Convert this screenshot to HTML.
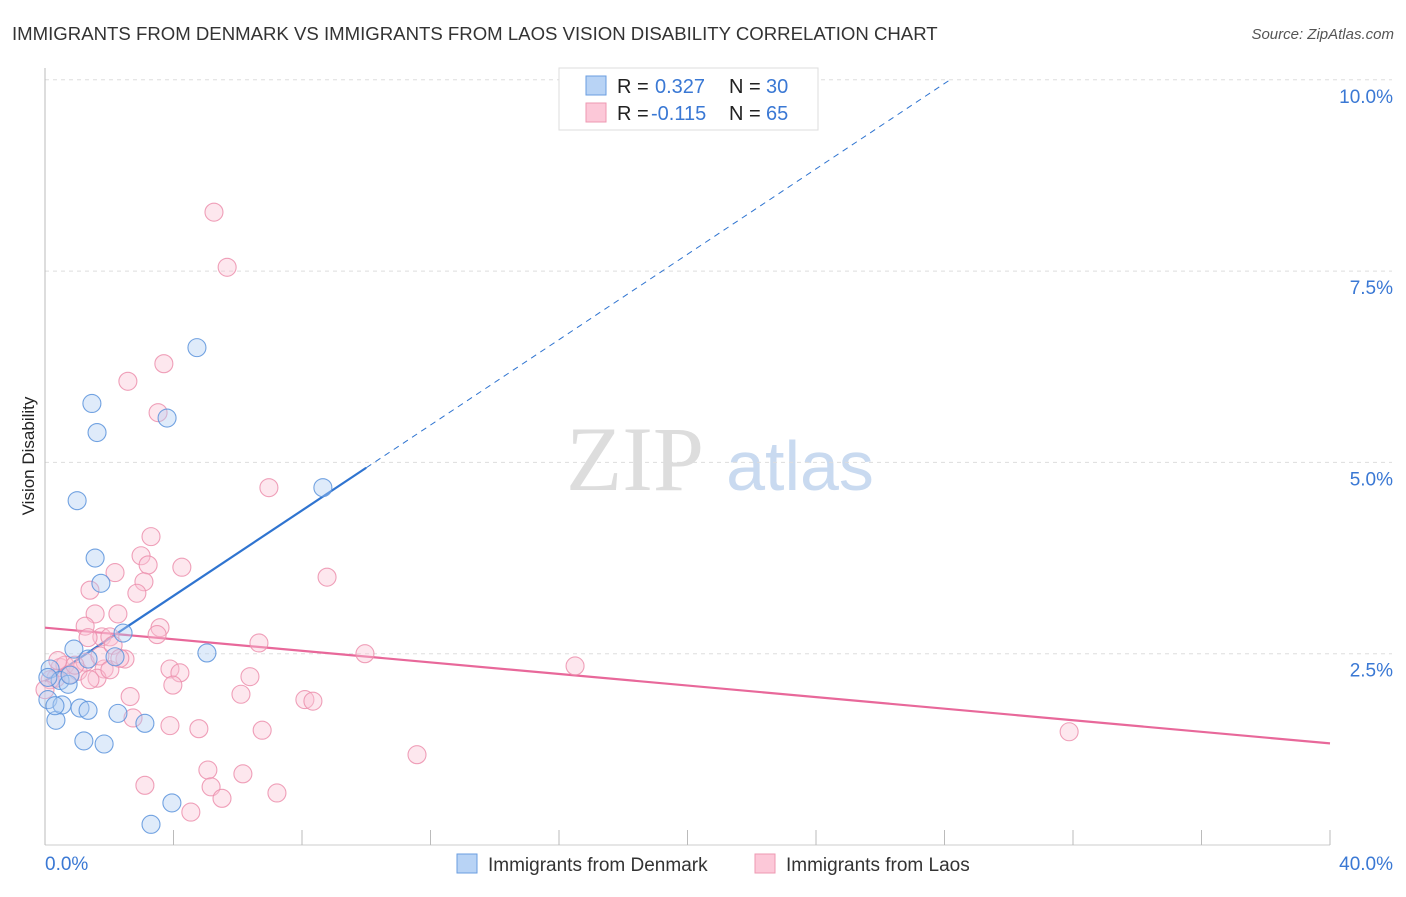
<!DOCTYPE html>
<html><head><meta charset="utf-8"><style>
body{margin:0;background:#fff;font-family:"Liberation Sans",sans-serif;}
</style></head><body>
<svg width="1406" height="892" xmlns="http://www.w3.org/2000/svg" style="font-family:'Liberation Sans',sans-serif">
<text x="12" y="40" font-size="18.6" fill="#333">IMMIGRANTS FROM DENMARK VS IMMIGRANTS FROM LAOS VISION DISABILITY CORRELATION CHART</text>
<text x="1394" y="39" font-size="15" fill="#555" font-style="italic" text-anchor="end">Source: ZipAtlas.com</text>
<text x="34" y="456" font-size="17" fill="#222" text-anchor="middle" transform="rotate(-90 34 456)">Vision Disability</text>
<g><text x="635" y="490" font-size="92" fill="#ddd" text-anchor="middle" font-family="Liberation Serif,serif">ZIP</text><text x="800" y="490" font-size="70" fill="#c9daf0" text-anchor="middle">atlas</text></g>
<g id="grid"></g><g id="axes"></g><g id="trends"></g><g id="pts"></g>
<g>
<rect x="559" y="68" width="259" height="62" fill="#fff" stroke="#ddd"/>
<rect x="586" y="76" width="20" height="19" fill="#b8d3f5" stroke="#6a9ee0"/>
<rect x="586" y="103" width="20" height="19" fill="#fcc8d8" stroke="#ee98b2"/>
<g font-size="20">
<text x="617" y="93" fill="#222">R =</text><text x="655" y="93" fill="#3a78d4">0.327</text><text x="729" y="93" fill="#222">N =</text><text x="766" y="93" fill="#3a78d4">30</text>
<text x="617" y="120" fill="#222">R =</text><text x="651" y="120" fill="#3a78d4">-0.115</text><text x="729" y="120" fill="#222">N =</text><text x="766" y="120" fill="#3a78d4">65</text>
</g>
</g>
<g>
<rect x="457" y="854" width="20" height="19" fill="#b8d3f5" stroke="#6a9ee0"/>
<text x="488" y="871" font-size="19" fill="#333">Immigrants from Denmark</text>
<rect x="755" y="854" width="20" height="19" fill="#fcc8d8" stroke="#ee98b2"/>
<text x="786" y="871" font-size="19" fill="#333">Immigrants from Laos</text>
</g>
</svg>
<script>
const yTicks=[2.5,5,7.5,10];
const yTickLabels=["2.5%","5.0%","7.5%","10.0%"];
const xTickCount=[0,4,8,12,16,20,24,28,32,36,40];
const xEndLabels=["0.0%","40.0%"];
const denX=[4.73,1.46,1.62,3.80,1.00,8.65,1.56,1.74,2.43,0.90,1.34,2.18,5.04,0.16,0.47,0.72,0.78,0.09,0.34,0.53,1.09,1.34,2.27,3.11,1.21,1.84,3.95,3.30,0.31,0.09];
const denY=[6.50,5.77,5.39,5.58,4.50,4.67,3.75,3.42,2.77,2.56,2.43,2.46,2.51,2.30,2.15,2.10,2.22,1.90,1.63,1.83,1.79,1.76,1.72,1.59,1.36,1.32,0.55,0.27,1.82,2.19];
const laoX=[5.26,5.67,3.70,2.58,3.52,6.97,3.30,2.99,4.26,3.21,2.18,3.08,8.78,1.40,2.86,1.56,2.27,1.25,3.58,3.49,6.66,1.77,1.34,2.02,9.96,16.50,2.49,1.84,3.89,6.38,4.20,3.98,1.03,0.47,0.62,1.62,0.34,0.78,2.65,6.10,8.09,8.34,2.74,3.89,4.79,6.76,11.58,31.88,3.11,5.07,6.16,5.17,5.51,7.22,4.54,0.16,0.0,1.25,1.71,2.12,0.93,0.40,1.40,2.02,2.33];
const laoY=[8.27,7.55,6.29,6.06,5.65,4.67,4.03,3.78,3.63,3.66,3.56,3.44,3.50,3.33,3.29,3.02,3.02,2.86,2.84,2.75,2.64,2.72,2.71,2.72,2.50,2.34,2.43,2.30,2.30,2.20,2.25,2.09,2.27,2.32,2.35,2.18,2.18,2.23,1.94,1.97,1.90,1.88,1.66,1.56,1.52,1.50,1.18,1.48,0.78,0.98,0.93,0.76,0.61,0.68,0.43,2.16,2.03,2.39,2.47,2.61,2.35,2.41,2.16,2.29,2.44];
const denTrend=[2.14,0.279];   // intercept, slope
const laoTrend=[2.84,-0.0378];
const X=v=>45+v/40*1285, Y=v=>845-v*76.52;
const NS="http://www.w3.org/2000/svg";
function mk(t,a,p){const e=document.createElementNS(NS,t);for(const k in a)e.setAttribute(k,a[k]);p.appendChild(e);return e;}
const grid=document.getElementById('grid'),axes=document.getElementById('axes'),tr=document.getElementById('trends'),pts=document.getElementById('pts');
yTicks.forEach((v,i)=>{
 const l=mk('line',{x1:45,x2:1392,y1:Y(v),y2:Y(v),stroke:'#ddd','stroke-dasharray':'4,4'},grid);
 
 
 const t=mk('text',{x:1393,y:Y(v)+23,'font-size':19,fill:'#3a78d4','text-anchor':'end'},grid);t.textContent=yTickLabels[i];
 
 
});
const ax=mk('line',{x1:45,x2:45,y1:68,y2:845,stroke:'#bbb'},axes);


const bx=mk('line',{x1:45,x2:1330,y1:845,y2:845,stroke:'#ccc'},axes);


xTickCount.forEach(v=>{const t=mk('line',{x1:X(v),x2:X(v),y1:830,y2:845,stroke:'#bbb'},axes);
 
 });
[[0,'start',45],[40,'end',1393]].forEach((d,i)=>{const t=mk('text',{x:d[2],y:870,'font-size':19,fill:'#3a78d4','text-anchor':d[1]},axes);t.textContent=xEndLabels[i];
 
 });
function pt(x,y,f,s,name){const c=mk('circle',{cx:X(x),cy:Y(y),r:9,fill:f,'fill-opacity':0.4,stroke:s,'stroke-width':1.1,'stroke-opacity':0.85},pts);
 
 }
laoX.forEach((x,i)=>pt(x,laoY[i],'#fbc3d4','#ec8fad','point-laos'));
denX.forEach((x,i)=>pt(x,denY[i],'#b0cef3','#5b93dc','point-denmark'));
const f=(t,x)=>t[0]+t[1]*x;
let l1=mk('line',{x1:X(0),y1:Y(f(denTrend,0)),x2:X(10),y2:Y(f(denTrend,10)),stroke:'#2f74d0','stroke-width':2.2},tr);


const xe=(10.0-denTrend[0])/denTrend[1];
let l2=mk('line',{x1:X(10),y1:Y(f(denTrend,10)),x2:X(xe),y2:Y(f(denTrend,xe)),stroke:'#2f74d0','stroke-width':1,'stroke-dasharray':'6,5'},tr);


let l3=mk('line',{x1:X(0),y1:Y(f(laoTrend,0)),x2:X(40),y2:Y(f(laoTrend,40)),stroke:'#e8689a','stroke-width':2.2},tr);


</script>
</body></html>
